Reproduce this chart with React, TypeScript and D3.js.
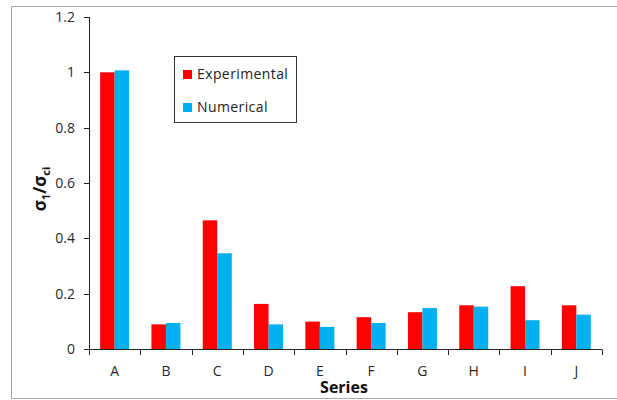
import * as d3 from "d3";

const categories = ["A", "B", "C", "D", "E", "F", "G", "H", "I", "J"];
const experimental = [1.0, 0.089, 0.465, 0.163, 0.099, 0.115, 0.133, 0.158, 0.227, 0.158];
const numerical = [1.007, 0.094, 0.346, 0.089, 0.08, 0.094, 0.148, 0.153, 0.104, 0.124];
const yTicks = [0, 0.2, 0.4, 0.6, 0.8, 1, 1.2];
const seriesNames = ["Experimental", "Numerical"];
const colors = ["#ff0000", "#00b0f0"];

const W = 617;
const H = 400;
const font = "'Open Sans', 'DejaVu Sans', sans-serif";

export default function App() {
    const x = d3.scaleBand<string>()
        .domain(categories)
        .range([89, 602])
        .paddingInner(0.435)
        .paddingOuter(0.2175);
    const xs = d3.scaleBand<string>()
        .domain(seriesNames)
        .range([0, x.bandwidth()]);
    const y = d3.scaleLinear().domain([0, 1.2]).range([349, 17]);
    const series = [experimental, numerical];
    const fmt = (v: number) => String(+v.toFixed(1));
    const gap = (x.step() - x.bandwidth()) / 2;

    return (
        <div style={{ position: "fixed", left: 0, top: 0 }}>
            <svg width={W} height={H} style={{ display: "block", background: "#fff" }}>
                {/* chart border */}
                <rect x={11.5} y={6.5} width={620} height={392} fill="none" stroke="#a6a6a6" strokeWidth={1} />

                {/* bars */}
                {series.map((vals, si) =>
                    categories.map((c, i) => (
                        <rect
                            key={`${si}-${c}`}
                            x={(x(c) || 0) + (xs(seriesNames[si]) || 0)}
                            y={y(vals[i])}
                            width={xs.bandwidth()}
                            height={y(0) - y(vals[i])}
                            fill={colors[si]}
                        />
                    ))
                )}

                {/* y axis */}
                <line x1={89.5} x2={89.5} y1={y(1.2)} y2={y(0)} stroke="#222" />
                {yTicks.map(t => (
                    <g key={t}>
                        <line x1={84} x2={89.5} y1={Math.round(y(t)) + 0.5} y2={Math.round(y(t)) + 0.5} stroke="#222" />
                        <text x={75} y={y(t)} dy="0.35em" textAnchor="end" fontSize={14} fill="#2a2a2a" fontFamily={font}>
                            {fmt(t)}
                        </text>
                    </g>
                ))}

                {/* x axis */}
                <line x1={89} x2={602} y1={349.5} y2={349.5} stroke="#222" />
                {[...categories.map(c => (x(c) || 0) - gap), 602].map((p, i) => (
                    <line key={i} x1={Math.round(p) + 0.5} x2={Math.round(p) + 0.5} y1={349.5} y2={355} stroke="#222" />
                ))}
                {categories.map(c => (
                    <text key={c} x={(x(c) || 0) + x.bandwidth() / 2} y={376} textAnchor="middle" fontSize={14} fill="#2a2a2a" fontFamily={font}>
                        {c}
                    </text>
                ))}

                {/* axis titles */}
                <text x={344} y={392.5} textAnchor="middle" fontSize={16} fontWeight="bold" fill="#111" fontFamily={font}>
                    Series
                </text>
                <text transform="translate(46,189) rotate(-90)" textAnchor="middle" fontSize={17} fontWeight="bold" fill="#111" fontFamily={font}>
                    σ<tspan fontSize={11} dy={4}>1</tspan>
                    <tspan dy={-4}>/σ</tspan>
                    <tspan fontSize={11} dy={4}>ci</tspan>
                </text>

                {/* legend */}
                <rect x={174.5} y={56.5} width={122} height={66} fill="#fff" stroke="#333" strokeWidth={1} />
                {seriesNames.map((s, i) => (
                    <g key={s} transform={`translate(183,${70 + i * 33})`}>
                        <rect x={0} y={0} width={9} height={9} fill={colors[i]} />
                        <text x={14} y={9} fontSize={14} fill="#222" fontFamily={font} letterSpacing={0.4}>
                            {s}
                        </text>
                    </g>
                ))}
            </svg>
        </div>
    );
}
